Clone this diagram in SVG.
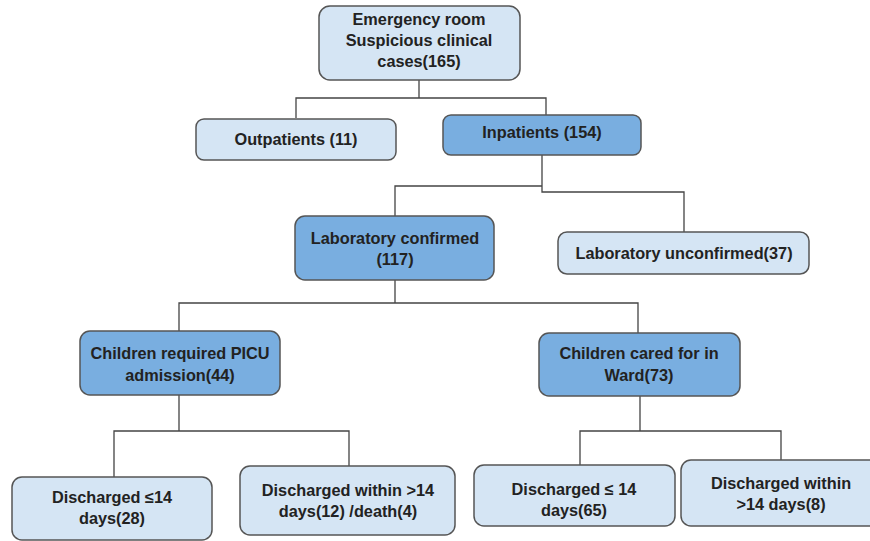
<svg xmlns="http://www.w3.org/2000/svg" width="870" height="541" viewBox="0 0 870 541">
<style>
.light{fill:#d5e5f4;stroke:#555;stroke-width:1.5}
.dark{fill:#79aee0;stroke:#555;stroke-width:1.5}
.t{font-family:"Liberation Sans",Arial,sans-serif;font-weight:bold;font-size:16.3px;fill:#222;text-anchor:middle}
.c{fill:none;stroke:#444;stroke-width:1.3}
</style>
<rect width="870" height="541" fill="#fff"/>
<g id="connectors">
<path class="c" d="M419,80 V98 M296,118 V98 H546 V115"/>
<path class="c" d="M542,155 V186 H395 V216 M542,186 V192 H684 V232"/>
<path class="c" d="M395,280 V303 M179,332 V303 H638 V333"/>
<path class="c" d="M179,395 V431 M114,477 V431 H349 V466"/>
<path class="c" d="M640,396 V431 M580,465 V431 H781 V461"/>
</g>
<g id="emergency">
<rect class="light" x="319" y="6" width="201" height="74" rx="11"/>
<text class="t" x="419" y="25">Emergency room</text>
<text class="t" x="419" y="46">Suspicious clinical</text>
<text class="t" x="419" y="67">cases(165)</text>
</g>
<g id="outpatients">
<rect class="light" x="196" y="119" width="200" height="41" rx="8"/>
<text class="t" x="296" y="145">Outpatients (11)</text>
</g>
<g id="inpatients">
<rect class="dark" x="443" y="115" width="198" height="40" rx="8"/>
<text class="t" x="542" y="138">Inpatients (154)</text>
</g>
<g id="labconfirmed">
<rect class="dark" x="295" y="216" width="199" height="64" rx="10"/>
<text class="t" x="395" y="244">Laboratory confirmed</text>
<text class="t" x="395" y="265">(117)</text>
</g>
<g id="labunconfirmed">
<rect class="light" x="558" y="232" width="251" height="42" rx="9"/>
<text class="t" x="684" y="259">Laboratory unconfirmed(37)</text>
</g>
<g id="picu">
<rect class="dark" x="80" y="331" width="200" height="64" rx="10"/>
<text class="t" x="180" y="359">Children required PICU</text>
<text class="t" x="180" y="381">admission(44)</text>
</g>
<g id="ward">
<rect class="dark" x="539" y="333" width="201" height="63" rx="10"/>
<text class="t" x="639" y="359">Children cared for in</text>
<text class="t" x="639" y="381">Ward(73)</text>
</g>
<g id="dis28">
<rect class="light" x="12" y="477" width="200" height="63" rx="10"/>
<text class="t" x="112" y="503">Discharged ≤14</text>
<text class="t" x="112" y="524">days(28)</text>
</g>
<g id="dis12">
<rect class="light" x="240" y="466" width="215" height="69" rx="10"/>
<text class="t" x="348" y="496">Discharged within &gt;14</text>
<text class="t" x="348" y="517">days(12) /death(4)</text>
</g>
<g id="dis65">
<rect class="light" x="474" y="465" width="201" height="61" rx="10"/>
<text class="t" x="574" y="495">Discharged ≤ 14</text>
<text class="t" x="574" y="516">days(65)</text>
</g>
<g id="dis8">
<rect class="light" x="681" y="460" width="200" height="66" rx="10"/>
<text class="t" x="781" y="489">Discharged within</text>
<text class="t" x="781" y="510">&gt;14 days(8)</text>
</g>
</svg>
